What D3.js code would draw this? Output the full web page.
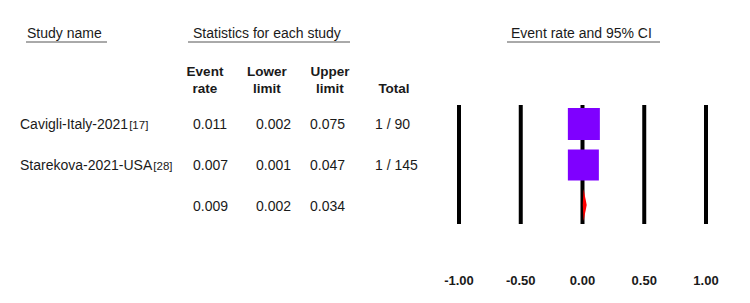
<!DOCTYPE html>
<html>
<head>
<meta charset="utf-8">
<script src="https://cdn.jsdelivr.net/npm/d3@7"></script>
<style>
  body { margin: 0; background: #fff; }
  text { font-family: "Liberation Sans", Arial, sans-serif; fill: #1a1a1a; }
</style>
</head>
<body>
<svg class="s"></svg>
<script>
var w = 750;
var h = 303;

// study rows
var studies = ['Cavigli-Italy-2021', 'Starekova-2021-USA'];
var refs = ['[17]', '[28]'];
var eventRate = [0.011, 0.007];
var lower = [0.002, 0.001];
var upper = [0.075, 0.047];
var totals = ['1 / 90', '1 / 145'];
var boxSize = [32, 31];

// pooled
var pooled = {rate: 0.009, lower: 0.002, upper: 0.034};

var ticks = [-1, -0.5, 0, 0.5, 1];

var svg = d3.select('.s')
            .attr('width', w)
            .attr('height', h);

var x = d3.scaleLinear()
          .domain([-1, 1])
          .range([459, 706]);

var rowY = d3.scalePoint()
             .domain([0, 1, 2])
             .range([124, 206]);

var fmt = d3.format('.3f');
var tickFmt = d3.formatLocale({decimal: '.', thousands: ',', grouping: [3], currency: ['', ''], minus: '-'}).format('.2f');

// underlined section headers
var heads = [
  {t: 'Study name', x: 27, x1: 26, x2: 107},
  {t: 'Statistics for each study', x: 193, x1: 188, x2: 350},
  {t: 'Event rate and 95% CI', x: 511, x1: 507, x2: 660}
];
heads.forEach(function(d){
  svg.append('text')
     .attr('x', d.x).attr('y', 38)
     .attr('font-size', 14)
     .text(d.t);
  svg.append('line')
     .attr('x1', d.x1).attr('x2', d.x2)
     .attr('y1', 42).attr('y2', 42)
     .attr('stroke', '#555').attr('stroke-width', 1);
});

// column headers
var cols = [
  {l1: 'Event', l2: 'rate', x: 205},
  {l1: 'Lower', l2: 'limit', x: 267},
  {l1: 'Upper', l2: 'limit', x: 330},
  {l1: '', l2: 'Total', x: 394}
];
cols.forEach(function(c){
  var t = svg.append('text')
     .attr('text-anchor', 'middle')
     .attr('font-size', 13.5)
     .attr('font-weight', 'bold');
  t.append('tspan').attr('x', c.x).attr('y', 76).text(c.l1);
  t.append('tspan').attr('x', c.x).attr('y', 93).text(c.l2);
});

// study text rows
studies.forEach(function(s, i){
  var y = rowY(i) + 5;
  var t = svg.append('text').attr('x', 20).attr('y', y).attr('font-size', 14);
  t.append('tspan').text(s);
  t.append('tspan').attr('font-size', 11.5).attr('dx', 1).text(refs[i]);
  var vals = [fmt(eventRate[i]), fmt(lower[i]), fmt(upper[i]), totals[i]];
  var xs = [193, 256, 310, 375];
  vals.forEach(function(v, j){
    svg.append('text').attr('x', xs[j]).attr('y', y).attr('font-size', 14).text(v);
  });
});

// pooled text row
[fmt(pooled.rate), fmt(pooled.lower), fmt(pooled.upper)].forEach(function(v, j){
  svg.append('text')
     .attr('x', [193, 256, 310][j]).attr('y', rowY(2) + 5)
     .attr('font-size', 14).text(v);
});

// vertical reference lines
svg.append('g').selectAll('line')
   .data(ticks).enter().append('line')
   .attr('x1', function(d){ return x(d); })
   .attr('x2', function(d){ return x(d); })
   .attr('y1', 105).attr('y2', 224)
   .attr('stroke', '#000').attr('stroke-width', 4);

// tick labels
svg.append('g').selectAll('text')
   .data(ticks).enter().append('text')
   .attr('x', function(d){ return x(d); })
   .attr('y', 285)
   .attr('text-anchor', 'middle')
   .attr('font-size', 13)
   .attr('font-weight', 'bold')
   .text(function(d){ return tickFmt(d); });

// CIs and boxes
studies.forEach(function(s, i){
  svg.append('line')
     .attr('x1', x(lower[i])).attr('x2', x(upper[i]))
     .attr('y1', rowY(i)).attr('y2', rowY(i))
     .attr('stroke', '#000').attr('stroke-width', 1);
  svg.append('rect')
     .attr('x', x(eventRate[i]) - boxSize[i] / 2)
     .attr('y', rowY(i) - boxSize[i] / 2)
     .attr('width', boxSize[i]).attr('height', boxSize[i])
     .attr('fill', '#7f00ff');
});

// pooled diamond
var py = rowY(2) - 1;
var dh = 16;
svg.append('path')
   .attr('d', 'M' + x(pooled.rate) + ',' + (py - dh) +
               'L' + x(pooled.upper) + ',' + py +
              'L' + x(pooled.rate) + ',' + (py + dh) +
              'L' + x(pooled.lower) + ',' + py + 'Z')
   .attr('fill', 'red');
</script>
</body>
</html>
